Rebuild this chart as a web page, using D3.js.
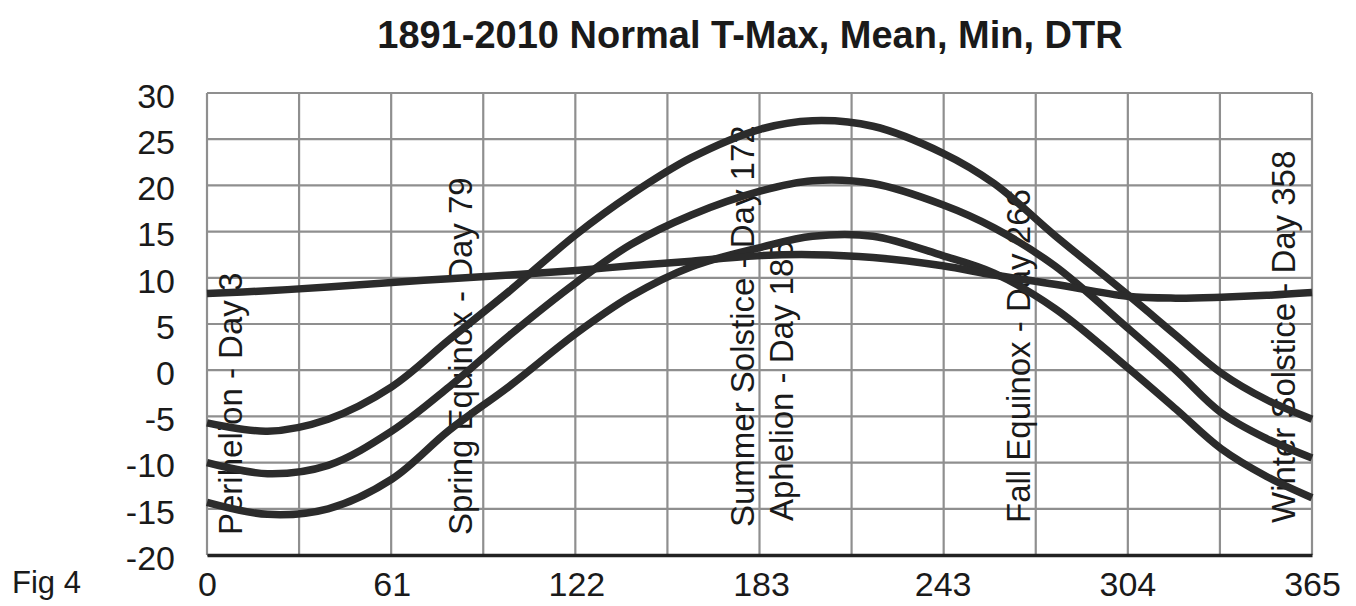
<!DOCTYPE html>
<html>
<head>
<meta charset="utf-8">
<script src="https://cdn.jsdelivr.net/npm/d3@7/dist/d3.min.js"></script>
<style>
  html, body { margin: 0; padding: 0; background: #fff; }
  svg { display: block; }
  text { font-family: "Liberation Sans", Arial, Helvetica, sans-serif; fill: #1a1a1a; }
</style>
</head>
<body>
<svg id="chart" width="1356" height="606"></svg>
<script>
// Day of year at which each normal was sampled
const days = [0, 20, 40, 61, 80, 100, 122, 140, 160, 183, 200, 220, 243, 260, 280, 304, 320, 335, 350, 365];

// 1891-2010 normals (deg C)
const tmax = [-5.7, -6.6, -5.3, -1.8, 3.3, 8.6, 14.7, 19.0, 23.0, 26.1, 27.0, 26.4, 23.5, 20.2, 14.6, 8.2, 3.8, -0.3, -3.2, -5.3];
const tmean = [-10.0, -11.2, -10.3, -6.6, -1.8, 3.8, 9.5, 13.6, 16.8, 19.4, 20.5, 20.2, 17.9, 15.4, 11.3, 4.6, 0.0, -4.6, -7.4, -9.5];
const tmin = [-14.3, -15.6, -15.0, -11.8, -6.5, -1.7, 4.0, 8.0, 11.2, 13.3, 14.5, 14.5, 12.4, 10.5, 6.7, 0.3, -4.2, -8.5, -11.5, -13.8];
const dtr = [8.3, 8.6, 9.0, 9.5, 9.9, 10.3, 10.8, 11.3, 11.8, 12.4, 12.5, 12.2, 11.3, 10.3, 9.3, 8.0, 7.8, 7.9, 8.1, 8.4];

// Axis ticks
const xTickLabels = [0, 61, 122, 183, 243, 304, 365];
const yTickLabels = [30, 25, 20, 15, 10, 5, 0, -5, -10, -15, -20];

// Astronomical events marked on the chart
const eventNames = ["Perihelion", "Spring Equinox", "Summer Solstice", "Aphelion", "Fall Equinox", "Winter Solstice"];
const eventDays = [3, 79, 172, 185, 266, 358];

const titleText = "1891-2010 Normal T-Max, Mean, Min, DTR";
const figLabel = "Fig 4";

const svg = d3.select("#chart");
const plot = { left: 207, right: 1312, top: 93, bottom: 555 };

const x = d3.scaleLinear().domain([0, 365]).range([plot.left, plot.right]);
const y = d3.scaleLinear().domain([-20, 30]).range([plot.bottom, plot.top]);

// Title
svg.append("text")
  .attr("x", 750).attr("y", 48)
  .attr("text-anchor", "middle")
  .attr("font-size", 38).attr("font-weight", "bold")
  .text(titleText);

// Grid: a vertical line every month (365/12 days), a horizontal line every 5 degrees
const monthTicks = d3.range(0, 13).map(i => i * 365 / 12);
const grid = svg.append("g").attr("stroke", "#8f8f8f").attr("stroke-width", 2.2).attr("fill", "none");
grid.selectAll("line.v").data(monthTicks).join("line")
  .attr("class", "v")
  .attr("x1", d => x(d)).attr("x2", d => x(d))
  .attr("y1", plot.top).attr("y2", plot.bottom);
grid.selectAll("line.h").data(yTickLabels).join("line")
  .attr("class", "h")
  .attr("x1", plot.left).attr("x2", plot.right)
  .attr("y1", d => y(d)).attr("y2", d => y(d));

// Plain hyphen for negative numbers
const fmt = d => String(d);

// Bottom axis with the day labels
const xAxis = d3.axisBottom(x).tickValues(xTickLabels).tickSize(0).tickPadding(17).tickFormat(fmt);
const gx = svg.append("g").attr("transform", `translate(0,${plot.bottom})`).call(xAxis);
gx.select(".domain").attr("stroke", "#222").attr("stroke-width", 3.5);
gx.selectAll("text").attr("font-size", 34).attr("fill", "#1a1a1a").attr("font-family", "Liberation Sans, Arial, sans-serif");

// Left axis with temperature labels
const yAxis = d3.axisLeft(y).tickValues(yTickLabels).tickSize(0).tickPadding(32).tickFormat(fmt);
const gy = svg.append("g").attr("transform", `translate(${plot.left},0)`).call(yAxis);
gy.select(".domain").remove();
gy.selectAll("text").attr("font-size", 34).attr("fill", "#1a1a1a").attr("dy", "0.42em")
  .attr("font-family", "Liberation Sans, Arial, sans-serif");

// Event labels, rotated to read bottom to top
const labelShift = { 266: -8, 358: -22 };
const labelRaise = { 172: 8, 185: 14, 266: 12, 358: 12 };
const events = eventNames.map((n, i) => ({ name: n, day: eventDays[i] }));
svg.append("g").selectAll("text").data(events).join("text")
  .attr("transform", d => `translate(${x(d.day) + 26 + (labelShift[d.day] || 0)},${535 - (labelRaise[d.day] || 0)}) rotate(-90)`)
  .attr("font-size", 33)
  .attr("text-anchor", "start")
  .text(d => `${d.name} - Day ${d.day}`);

// Temperature curves
const series = [tmax, tmean, tmin, dtr];
const line = d3.line()
  .x(d => x(d[0]))
  .y(d => y(d[1]))
  .curve(d3.curveCatmullRom.alpha(0.5));
svg.append("g").selectAll("path").data(series).join("path")
  .attr("d", s => line(days.map((d, i) => [d, s[i]])))
  .attr("fill", "none")
  .attr("stroke", "#2b2b2b")
  .attr("stroke-width", 7.5)
  .attr("stroke-linecap", "butt")
  .attr("stroke-linejoin", "round");

// Figure number
svg.append("text")
  .attr("x", 12).attr("y", 593)
  .attr("font-size", 31)
  .text(figLabel);
</script>
</body>
</html>
